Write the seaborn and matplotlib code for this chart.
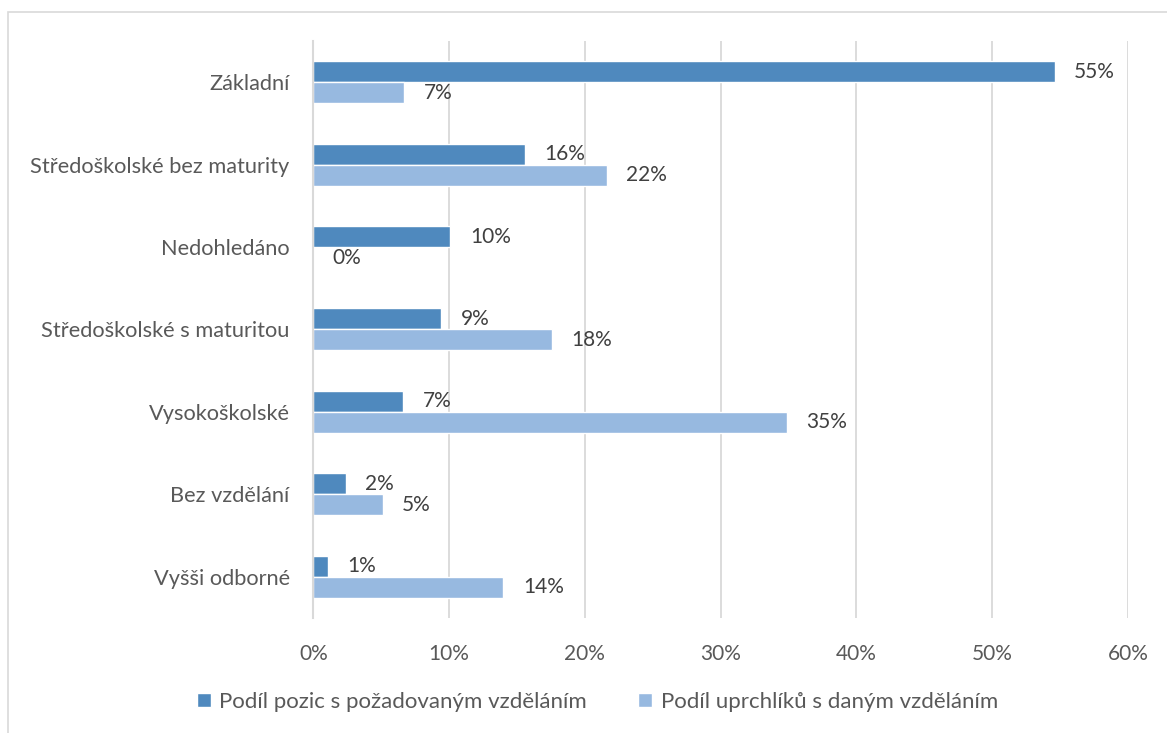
import matplotlib
matplotlib.use("Agg")
import matplotlib.pyplot as plt
from matplotlib.patches import Rectangle
from matplotlib.ticker import FuncFormatter
import pandas as pd
import seaborn as sns

# Chart data (shares in percent)
categories = ["Základní", "Středoškolské bez maturity", "Nedohledáno",
              "Středoškolské s maturitou", "Vysokoškolské", "Bez vzdělání",
              "Vyšši odborné"]
series_names = ["Podíl pozic s požadovaným vzděláním",
                "Podíl uprchlíků s daným vzděláním"]
positions_share = [54.6, 15.6, 10.1, 9.4, 6.6, 2.4, 1.1]
refugees_share = [6.7, 21.6, 0.0, 17.6, 34.9, 5.1, 14.0]
x_ticks = [0, 10, 20, 30, 40, 50, 60]

df = pd.DataFrame({
    "kategorie": categories * 2,
    "serie": [series_names[0]] * len(categories) + [series_names[1]] * len(categories),
    "podil": positions_share + refugees_share,
})

sns.set_style("white")
plt.rcParams["font.family"] = ["Lato", "DejaVu Sans"]

text_col = "#595959"
grid_col = "#D9D9D9"

fig = plt.figure(figsize=(11.67, 7.33), dpi=100)
ax = fig.add_axes([0.2685, 0.157, 0.698, 0.787])

sns.barplot(data=df, x="podil", y="kategorie", hue="serie", order=categories,
            hue_order=series_names, palette=["#4F89BE", "#97B9E0"],
            saturation=1, width=0.51, orient="h", ax=ax, legend=True)

for cont in ax.containers:
    ax.bar_label(cont, labels=[f"{v:.0f}%" for v in cont.datavalues],
                 padding=14, fontsize=15, color="#404040")

ax.set_xlim(0, 60)
ax.set_xticks(x_ticks)
ax.xaxis.set_major_formatter(FuncFormatter(lambda v, p: f"{v:.0f}%"))
ax.grid(axis="x", color=grid_col, linewidth=1.3)
ax.set_axisbelow(True)
for side in ["top", "right", "bottom"]:
    ax.spines[side].set_visible(False)
ax.spines["left"].set_color(grid_col)
ax.spines["left"].set_linewidth(1.5)
ax.tick_params(axis="both", length=0, labelcolor=text_col)
ax.tick_params(axis="x", pad=19, labelsize=15)
ax.tick_params(axis="y", pad=17, labelsize=15.7)
ax.set_xlabel("")
ax.set_ylabel("")

ax.legend(loc="center", bbox_to_anchor=(0.512, 0.042), bbox_transform=fig.transFigure,
          ncol=2, frameon=False, fontsize=16, labelcolor=text_col,
          handlelength=0.6, handleheight=0.6, handletextpad=0.4, columnspacing=2.3)

# outer chart frame
fig.patches.append(Rectangle((8 / 1167, -0.01), 1.2, 1 - 12 / 733 + 0.01,
                             transform=fig.transFigure, fill=False,
                             edgecolor=grid_col, linewidth=1.2))

fig.savefig("out.png", dpi=100)
